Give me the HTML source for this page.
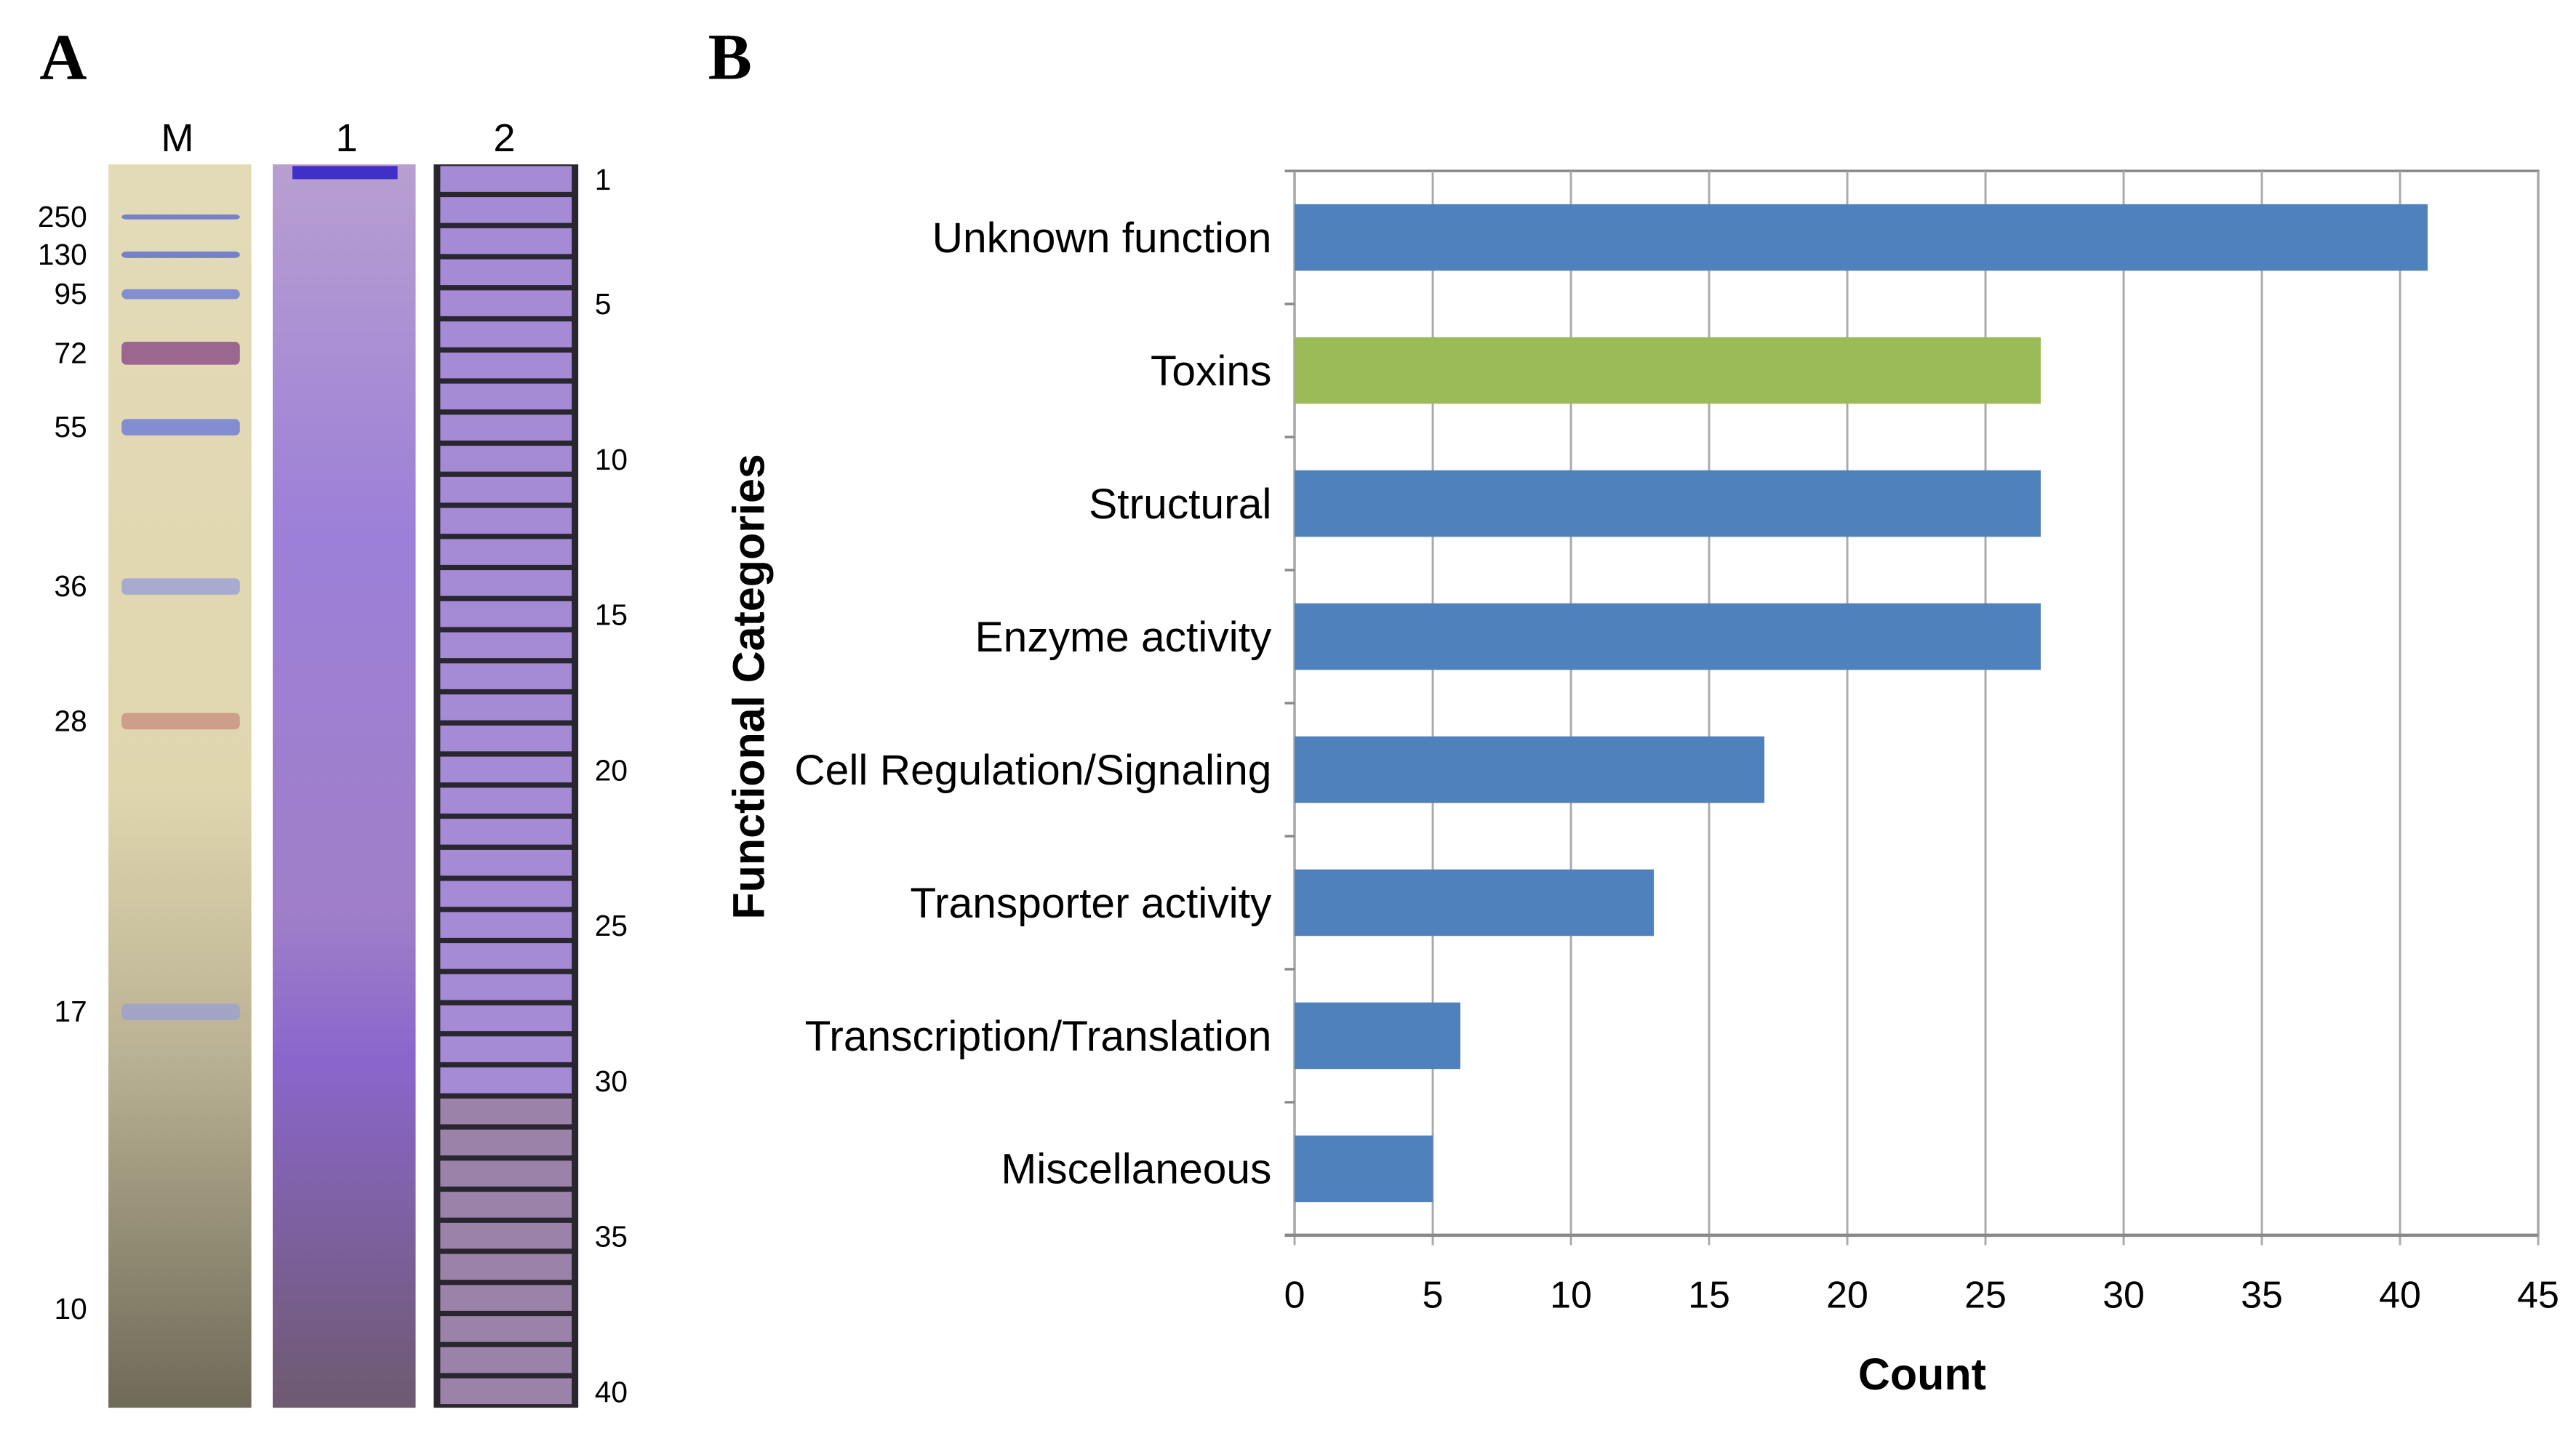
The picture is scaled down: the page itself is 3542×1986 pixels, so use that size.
<!DOCTYPE html>
<html><head><meta charset="utf-8"><style>
html,body{margin:0;padding:0;background:#fff;}
svg{display:block;}
</style></head><body>
<svg id="fig" width="3542" height="1986" viewBox="0 0 1568 879" xmlns="http://www.w3.org/2000/svg">
<defs>
<linearGradient id="gM" x1="0" y1="0" x2="0" y2="1">
<stop offset="0" stop-color="#e3dbb8"/><stop offset="0.5" stop-color="#e0d6ae"/><stop offset="0.72" stop-color="#b9b193"/><stop offset="1" stop-color="#6f6a58"/></linearGradient>
<linearGradient id="g1" x1="0" y1="0" x2="0" y2="1">
<stop offset="0" stop-color="#b89fd0"/><stop offset="0.3" stop-color="#9c7fd8"/><stop offset="0.6" stop-color="#a07fc8"/><stop offset="0.72" stop-color="#8a66cc"/><stop offset="1" stop-color="#6e5a70"/></linearGradient>
</defs>
<g font-family="Liberation Sans, sans-serif">
<text x="24" y="48" font-family="Liberation Serif, serif" font-weight="bold" font-size="40">A</text>
<text x="108" y="92" font-size="24" text-anchor="middle">M</text>
<text x="211" y="92" font-size="24" text-anchor="middle">1</text>
<text x="307" y="92" font-size="24" text-anchor="middle">2</text>
<rect x="66" y="100" width="87" height="757" fill="url(#gM)"/>
<g id="mbands"></g>
<rect x="166" y="100" width="87" height="757" fill="url(#g1)"/>
<rect x="178" y="101" width="64" height="8" fill="#4030c8"/>
<rect x="264" y="100" width="88" height="757" fill="#2a2630"/>
<g id="slices"></g>
<g id="mwlabels" font-size="18" text-anchor="end"></g>
<g id="slabels" font-size="18"></g>
</g>
<g font-family="Liberation Sans, sans-serif">
<text x="431" y="48" font-family="Liberation Serif, serif" font-weight="bold" font-size="40">B</text>
<g id="grid"></g>
<g id="bars"></g>
<g id="cats" font-size="26" text-anchor="end"></g>
<g id="xt" font-size="23" text-anchor="middle"></g>
<text x="1170" y="846" font-size="27" font-weight="bold" text-anchor="middle">Count</text>
<text transform="translate(465,418) rotate(-90)" font-size="27" font-weight="bold" text-anchor="middle">Functional Categories</text>
</g>
</svg>
<script>
const categories=["Unknown function","Toxins","Structural","Enzyme activity","Cell Regulation/Signaling","Transporter activity","Transcription/Translation","Miscellaneous"];
const counts=[41,27,27,27,17,13,6,5];
const barColors=["#4f81bd","#9bbb59","#4f81bd","#4f81bd","#4f81bd","#4f81bd","#4f81bd","#4f81bd"];
const xTicks=[0,5,10,15,20,25,30,35,40,45];
const mwLabels=["250","130","95","72","55","36","28","17","10"];
const mwY=[132,155,179,215,260,357,439,616,797];
const sliceLabels=["1","5","10","15","20","25","30","35","40"];
const sliceNums=[1,5,10,15,20,25,30,35,40];

const NS="http://www.w3.org/2000/svg";
function mk(tag,attrs,parent){const e=document.createElementNS(NS,tag);for(const k in attrs)e.setAttribute(k,attrs[k]);parent.appendChild(e);return e;}
const X0=788,X1=1545,Y0=104,Y1=752,XMAX=45;
const xs=v=>X0+(X1-X0)*v/XMAX;
const band=(Y1-Y0)/categories.length;
const grid=document.getElementById('grid');
const plotRect=mk('rect',{x:X0,y:Y0,width:X1-X0,height:Y1-Y0,fill:'#fff',stroke:'#888','stroke-width':1.5},grid);


const xt=document.getElementById('xt');
xTicks.forEach(t=>{
  const l=mk('line',{x1:xs(t),x2:xs(t),y1:Y0,y2:Y1+6,stroke:'#aaa','stroke-width':1.3},grid);
  
  
  const tx=mk('text',{x:xs(t),y:Y1+44},xt);tx.textContent=t;
  
  
});
for(let i=0;i<=categories.length;i++){
  const l=mk('line',{x1:X0-6,x2:X0,y1:Y0+band*i,y2:Y0+band*i,stroke:'#888','stroke-width':1.5},grid);
  
  
}
const ax=mk('line',{x1:X0-6,x2:X1,y1:Y1,y2:Y1,stroke:'#888','stroke-width':2},grid);


const bars=document.getElementById('bars'),cats=document.getElementById('cats');
categories.forEach((c,i)=>{
  const y=Y0+band*i;
  const r=mk('rect',{x:X0,y:y+band*0.25,width:xs(counts[i])-X0,height:band*0.5,fill:barColors[i]},bars);
  
  
  const t=mk('text',{x:774,y:y+band/2+9},cats);t.textContent=c;
  
  
});
const mb=document.getElementById('mbands');
const bandCols=["#5a6ad0","#5a6ad0","#6b7ad8","#8a4a88","#6a7ad8","#9aa0d8","#c89080","#9aa0d0"];
const bandH=[3,4,6,14,10,10,10,10];
mwY.slice(0,8).forEach((y,i)=>{
  const b=mk('rect',{x:74,y:y-bandH[i]/2,width:72,height:bandH[i],rx:3,fill:bandCols[i],opacity:0.8},mb);
  
  
});
const sl=document.getElementById('slices');
const gelTop=100,gelBot=857,nS=40,sh=(gelBot-gelTop)/nS;
for(let i=0;i<nS;i++){
  const r=mk('rect',{x:268,y:gelTop+i*sh+1,width:80,height:sh-3.2,fill:i<30?'#a58ad6':'#9a82a8'},sl);
  
  
}
const mw=document.getElementById('mwlabels');
mwLabels.forEach((l,i)=>{const t=mk('text',{x:53,y:mwY[i]+6},mw);t.textContent=l;
  
  });
const sL=document.getElementById('slabels');
sliceLabels.forEach((l,i)=>{const y=gelTop+(sliceNums[i]-0.5)*sh;const t=mk('text',{x:362,y:y+6},sL);t.textContent=l;
  
  });
</script>
</body></html>
